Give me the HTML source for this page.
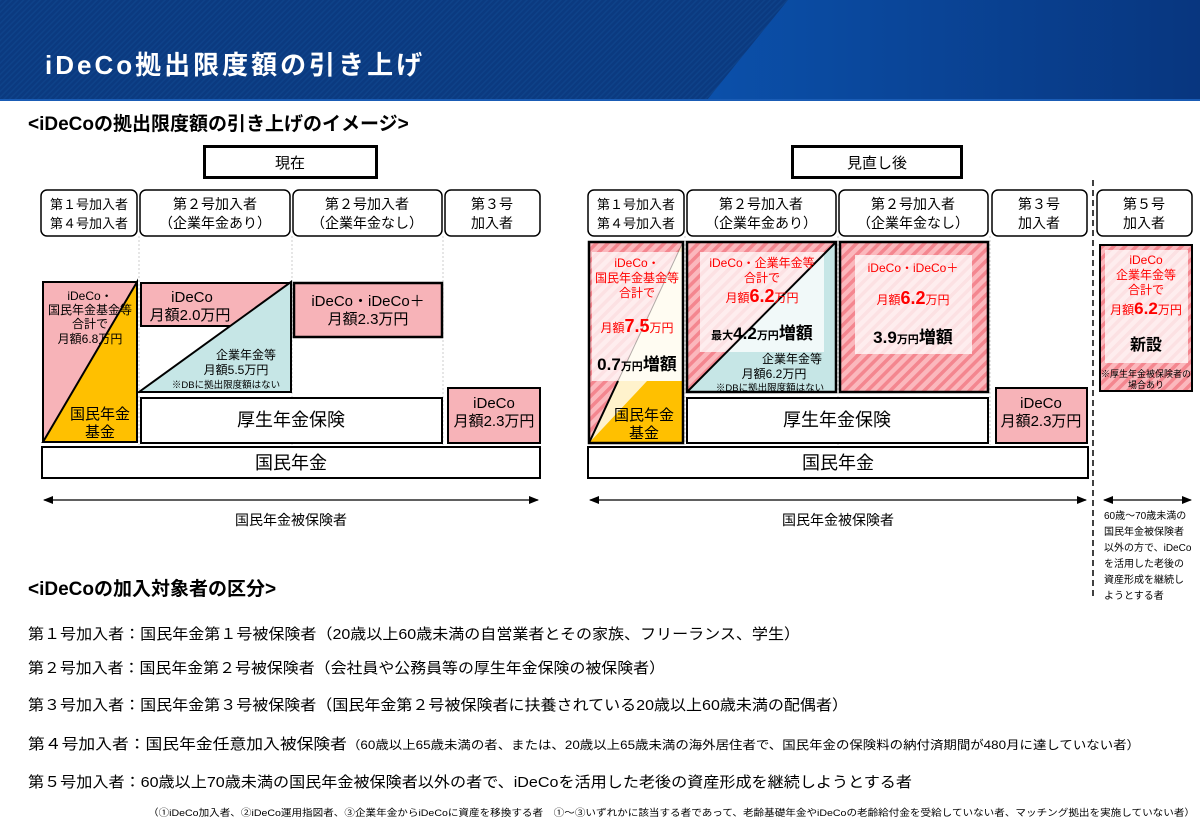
<!DOCTYPE html>
<html><head><meta charset="utf-8"><style>
html,body{margin:0;padding:0;background:#fff;}
svg{display:block;font-family:"Liberation Sans","Noto Sans CJK JP",sans-serif;}
</style></head><body>
<svg width="1200" height="831" viewBox="0 0 1200 831" xmlns="http://www.w3.org/2000/svg">
<defs>
<pattern id="hatch" patternUnits="userSpaceOnUse" width="8" height="8" patternTransform="rotate(45)">
<rect width="8" height="8" fill="#fbb8bd"/><rect width="3.5" height="8" fill="#f4868f"/>
</pattern>
<pattern id="bstr" patternUnits="userSpaceOnUse" width="4" height="4" patternTransform="rotate(45)">
<rect width="4" height="4" fill="#0b3a80"/><rect width="1.5" height="4" fill="#0e4289"/>
</pattern>
<linearGradient id="bg2" x1="0" x2="1" y1="0" y2="0"><stop offset="0" stop-color="#0b50aa"/><stop offset="1" stop-color="#08367f"/></linearGradient>
<marker id="ah" markerWidth="10" markerHeight="8" refX="9" refY="4" orient="auto-start-reverse" markerUnits="userSpaceOnUse"><path d="M0,0 L10,4 L0,8z" fill="#000"/></marker>
</defs>
<!-- banner -->
<rect x="0" y="0" width="1200" height="100" fill="url(#bstr)"/>
<polygon points="788,0 1200,0 1200,100 707,100" fill="url(#bg2)"/>
<rect x="0" y="99" width="1200" height="2" fill="#1a5cb5"/>
<text x="45" y="74" fill="#fff" font-size="26" font-weight="bold" letter-spacing="3">iDeCo拠出限度額の引き上げ</text>
<text x="28" y="130" font-size="19" font-weight="bold">&lt;iDeCoの拠出限度額の引き上げのイメージ&gt;</text>

<g stroke="#000" fill="none">
<rect x="204.5" y="146.5" width="172" height="31" stroke-width="3"/>
<rect x="792.5" y="146.5" width="169" height="31" stroke-width="3"/>
</g>
<text x="290" y="168" font-size="15" text-anchor="middle">現在</text>
<text x="877" y="168" font-size="15" text-anchor="middle">見直し後</text>

<!-- headers -->
<g stroke="#000" stroke-width="1.5" fill="#fff">
<rect x="41" y="190" width="96" height="46" rx="6"/>
<rect x="140" y="190" width="150" height="46" rx="6"/>
<rect x="293" y="190" width="149" height="46" rx="6"/>
<rect x="445" y="190" width="95" height="46" rx="6"/>
<rect x="588" y="190" width="96" height="46" rx="6"/>
<rect x="687" y="190" width="149" height="46" rx="6"/>
<rect x="839" y="190" width="149" height="46" rx="6"/>
<rect x="992" y="190" width="95" height="46" rx="6"/>
<rect x="1097" y="190" width="95" height="46" rx="6"/>
</g>
<g font-size="14" text-anchor="middle">
<text x="89" y="209" font-size="13">第１号加入者</text><text x="89" y="228" font-size="13">第４号加入者</text>
<text x="215" y="209">第２号加入者</text><text x="215" y="228">（企業年金あり）</text>
<text x="367" y="209">第２号加入者</text><text x="367" y="228">（企業年金なし）</text>
<text x="492" y="209">第３号</text><text x="492" y="228">加入者</text>
<text x="636" y="209" font-size="13">第１号加入者</text><text x="636" y="228" font-size="13">第４号加入者</text>
<text x="761" y="209">第２号加入者</text><text x="761" y="228">（企業年金あり）</text>
<text x="913" y="209">第２号加入者</text><text x="913" y="228">（企業年金なし）</text>
<text x="1039" y="209">第３号</text><text x="1039" y="228">加入者</text>
<text x="1144" y="209">第５号</text><text x="1144" y="228">加入者</text>
</g>
<g stroke="#ccc" stroke-width="1" stroke-dasharray="2,2">
<line x1="139" y1="236" x2="139" y2="445"/><line x1="292" y1="236" x2="292" y2="445"/><line x1="443" y1="236" x2="443" y2="445"/>
<line x1="685" y1="236" x2="685" y2="445"/><line x1="838" y1="236" x2="838" y2="445"/><line x1="990" y1="236" x2="990" y2="445"/>
</g>

<!-- LEFT col1 -->
<rect x="43" y="282" width="94" height="160" fill="#f7b3b8" stroke="#000" stroke-width="2"/>
<polygon points="43,442 137,282 137,442" fill="#ffc000" stroke="#000" stroke-width="2"/>
<g font-size="12" text-anchor="middle">
<text x="90" y="300">iDeCo・</text><text x="90" y="314">国民年金基金等</text><text x="90" y="328">合計で</text><text x="90" y="343">月額6.8万円</text>
</g>
<text x="100" y="419" font-size="15" text-anchor="middle">国民年金</text>
<text x="100" y="437" font-size="15" text-anchor="middle">基金</text>
<!-- col2 -->
<rect x="141" y="283" width="149" height="43" fill="#f7b3b8" stroke="#000" stroke-width="2"/>
<polygon points="139,392 291,282 291,392" fill="#c6e6e6" stroke="#000" stroke-width="2"/>
<text x="192" y="302" font-size="15" text-anchor="middle">iDeCo</text>
<text x="190" y="320" font-size="15" text-anchor="middle">月額2.0万円</text>
<text x="246" y="359" font-size="12" text-anchor="middle">企業年金等</text>
<text x="236" y="374" font-size="12" text-anchor="middle">月額5.5万円</text>
<text x="226" y="388" font-size="9.5" text-anchor="middle">※DBに拠出限度額はない</text>
<!-- col3 -->
<rect x="294" y="283" width="148" height="54" fill="#f7b3b8" stroke="#000" stroke-width="2.5"/>
<text x="368" y="306" font-size="15" text-anchor="middle">iDeCo・iDeCo＋</text>
<text x="368" y="324" font-size="15" text-anchor="middle">月額2.3万円</text>
<!-- kosei -->
<rect x="141" y="398" width="301" height="45" fill="#fff" stroke="#000" stroke-width="2"/>
<text x="291" y="426" font-size="18" text-anchor="middle">厚生年金保険</text>
<rect x="448" y="388" width="92" height="55" fill="#f7b3b8" stroke="#000" stroke-width="2"/>
<text x="494" y="408" font-size="15" text-anchor="middle">iDeCo</text>
<text x="494" y="426" font-size="15" text-anchor="middle">月額2.3万円</text>
<rect x="42" y="447" width="498" height="31" fill="#fff" stroke="#000" stroke-width="2"/>
<text x="291" y="469" font-size="18" text-anchor="middle">国民年金</text>
<line x1="44" y1="500" x2="538" y2="500" stroke="#000" stroke-width="1.2" marker-start="url(#ah)" marker-end="url(#ah)"/>
<text x="291" y="525" font-size="14" text-anchor="middle">国民年金被保険者</text>

<!-- RIGHT col1 -->
<rect x="589" y="242" width="94" height="201" fill="url(#hatch)"/>
<polygon points="589,443 683,242 683,443" fill="#fff2cc"/>
<rect x="592" y="252" width="90" height="129" fill="#fff" opacity="0.75"/>
<polygon points="647,381 683,381 683,443 589,443" fill="#ffc000"/>
<line x1="647" y1="381" x2="683" y2="242" stroke="#000" stroke-width="0" />
<line x1="589" y1="443" x2="683" y2="242" stroke="#000" stroke-width="1" opacity="0.3"/>
<line x1="589" y1="443" x2="618" y2="381" stroke="#000" stroke-width="2"/>
<rect x="589" y="242" width="94" height="201" fill="none" stroke="#000" stroke-width="2.5"/>
<g fill="#f00" font-size="12" text-anchor="middle">
<text x="637" y="267">iDeCo・</text><text x="637" y="282">国民年金基金等</text><text x="637" y="297">合計で</text>
<text x="637" y="332"><tspan>月額</tspan><tspan font-size="18" font-weight="bold">7.5</tspan><tspan>万円</tspan></text>
</g>
<text x="637" y="370" font-weight="bold" text-anchor="middle"><tspan font-size="17">0.7</tspan><tspan font-size="11">万円</tspan><tspan font-size="17">増額</tspan></text>
<text x="644" y="420" font-size="15" text-anchor="middle">国民年金</text>
<text x="644" y="438" font-size="15" text-anchor="middle">基金</text>
<!-- col2 -->
<rect x="687" y="242" width="149" height="150" fill="url(#hatch)"/>
<polygon points="687,392 836,242 836,392" fill="#c6e6e6"/>
<rect x="700" y="252" width="124" height="100" fill="#fff" opacity="0.75"/>
<line x1="687" y1="392" x2="836" y2="242" stroke="#000" stroke-width="2"/>
<rect x="687" y="242" width="149" height="150" fill="none" stroke="#000" stroke-width="2.5"/>
<g fill="#f00" font-size="12" text-anchor="middle">
<text x="762" y="267">iDeCo・企業年金等</text><text x="762" y="282">合計で</text>
<text x="762" y="302"><tspan>月額</tspan><tspan font-size="18" font-weight="bold">6.2</tspan><tspan>万円</tspan></text>
</g>
<text x="762" y="339" font-weight="bold" text-anchor="middle"><tspan font-size="11">最大</tspan><tspan font-size="17">4.2</tspan><tspan font-size="11">万円</tspan><tspan font-size="17">増額</tspan></text>
<text x="792" y="363" font-size="12" text-anchor="middle">企業年金等</text>
<text x="774" y="378" font-size="12" text-anchor="middle">月額6.2万円</text>
<text x="770" y="391" font-size="9.5" text-anchor="middle">※DBに拠出限度額はない</text>
<!-- col3 -->
<rect x="840" y="242" width="148" height="150" fill="url(#hatch)" stroke="#000" stroke-width="2.5"/>
<rect x="855" y="255" width="117" height="99" fill="#fff" opacity="0.75"/>
<text x="913" y="272" font-size="12" fill="#f00" text-anchor="middle">iDeCo・iDeCo＋</text>
<text x="913" y="304" fill="#f00" text-anchor="middle"><tspan font-size="12">月額</tspan><tspan font-size="18" font-weight="bold">6.2</tspan><tspan font-size="12">万円</tspan></text>
<text x="913" y="343" font-weight="bold" text-anchor="middle"><tspan font-size="17">3.9</tspan><tspan font-size="11">万円</tspan><tspan font-size="17">増額</tspan></text>
<!-- kosei -->
<rect x="687" y="398" width="301" height="45" fill="#fff" stroke="#000" stroke-width="2"/>
<text x="837" y="426" font-size="18" text-anchor="middle">厚生年金保険</text>
<rect x="996" y="388" width="91" height="55" fill="#f7b3b8" stroke="#000" stroke-width="2"/>
<text x="1041" y="408" font-size="15" text-anchor="middle">iDeCo</text>
<text x="1041" y="426" font-size="15" text-anchor="middle">月額2.3万円</text>
<rect x="588" y="447" width="500" height="31" fill="#fff" stroke="#000" stroke-width="2"/>
<text x="838" y="469" font-size="18" text-anchor="middle">国民年金</text>
<line x1="590" y1="500" x2="1086" y2="500" stroke="#000" stroke-width="1.2" marker-start="url(#ah)" marker-end="url(#ah)"/>
<text x="838" y="525" font-size="14" text-anchor="middle">国民年金被保険者</text>
<!-- col5 -->
<line x1="1093" y1="180" x2="1093" y2="600" stroke="#000" stroke-width="1.5" stroke-dasharray="6,4"/>
<rect x="1100" y="245" width="92" height="146" fill="url(#hatch)" stroke="#000" stroke-width="2"/>
<rect x="1105" y="250" width="83" height="113" fill="#fff" opacity="0.75"/>
<g fill="#f00" font-size="12" text-anchor="middle">
<text x="1146" y="264">iDeCo</text><text x="1146" y="279">企業年金等</text><text x="1146" y="294">合計で</text>
<text x="1146" y="314"><tspan>月額</tspan><tspan font-size="17" font-weight="bold">6.2</tspan><tspan>万円</tspan></text>
</g>
<text x="1146" y="350" font-size="16" font-weight="bold" text-anchor="middle">新設</text>
<text x="1146" y="377" font-size="9" text-anchor="middle">※厚生年金被保険者の</text>
<text x="1146" y="388" font-size="9" text-anchor="middle">場合あり</text>
<line x1="1104" y1="500" x2="1191" y2="500" stroke="#000" stroke-width="1.2" marker-start="url(#ah)" marker-end="url(#ah)"/>
<g font-size="10">
<text x="1104" y="519">60歳～70歳未満の</text><text x="1104" y="535">国民年金被保険者</text><text x="1104" y="551">以外の方で、iDeCo</text>
<text x="1104" y="567">を活用した老後の</text><text x="1104" y="583">資産形成を継続し</text><text x="1104" y="599">ようとする者</text>
</g>

<!-- bottom -->
<text x="28" y="595" font-size="19" font-weight="bold">&lt;iDeCoの加入対象者の区分&gt;</text>
<g font-size="15">
<text x="28" y="639" textLength="772" lengthAdjust="spacingAndGlyphs">第１号加入者：国民年金第１号被保険者（20歳以上60歳未満の自営業者とその家族、フリーランス、学生）</text>
<text x="28" y="673" textLength="637" lengthAdjust="spacingAndGlyphs">第２号加入者：国民年金第２号被保険者（会社員や公務員等の厚生年金保険の被保険者）</text>
<text x="28" y="710" textLength="820" lengthAdjust="spacingAndGlyphs">第３号加入者：国民年金第３号被保険者（国民年金第２号被保険者に扶養されている20歳以上60歳未満の配偶者）</text>
<text x="28" y="749" textLength="1112" lengthAdjust="spacingAndGlyphs">第４号加入者：国民年金任意加入被保険者<tspan font-size="12">（60歳以上65歳未満の者、または、20歳以上65歳未満の海外居住者で、国民年金の保険料の納付済期間が480月に達していない者）</tspan></text>
<text x="28" y="787" textLength="884" lengthAdjust="spacingAndGlyphs">第５号加入者：60歳以上70歳未満の国民年金被保険者以外の者で、iDeCoを活用した老後の資産形成を継続しようとする者</text>
</g>
<text x="148" y="816" font-size="9.5" textLength="1047" lengthAdjust="spacingAndGlyphs">（①iDeCo加入者、②iDeCo運用指図者、③企業年金からiDeCoに資産を移換する者　①～③いずれかに該当する者であって、老齢基礎年金やiDeCoの老齢給付金を受給していない者、マッチング拠出を実施していない者）</text>
</svg>
</body></html>
